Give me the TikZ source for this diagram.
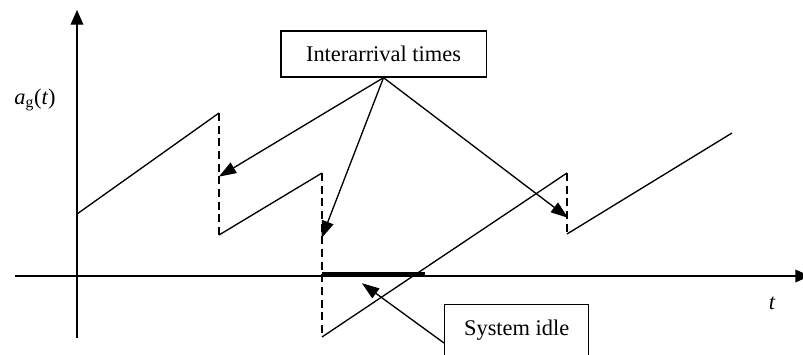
\documentclass[tikz,border=0pt]{standalone}
\usepackage{fontspec}
\setmainfont{Liberation Serif}
\usetikzlibrary{arrows.meta, calc, positioning}

\begin{document}
\begin{tikzpicture}[
  x=0.75pt, y=-0.75pt,
  %% Axis line
  axis/.style={line width=1pt, -{Triangle[length=11pt,width=9.5pt]}},
  %% Curve segments
  crv/.style={line width=1pt, line join=miter},
  %% Jump (dashed)
  jmp/.style={line width=1pt, dash pattern=on 6pt off 3.5pt},
  %% Label box
  lbox/.style={draw, line width=1pt, rectangle, font=\fontsize{16.8}{20}\selectfont},
  %% Pointer arrow
  parr/.style={line width=1pt, -{Triangle[length=13pt,width=9pt]}, shorten >=-1pt},
]
\clip (0,0) rectangle (803,354);

%% ── AXES ────────────────────────────────────────────────────────────────────
\coordinate (O) at (77,276);
\draw[axis] (77,338) -- (77,10);
\draw[axis] (15,276) -- (810,276);
\node[font=\fontsize{16.8}{20}\selectfont] (ylab) at (35,100)
  {\textit{a}\textsubscript{g}(\textit{t})};
\node[font=\fontsize{16.8}{20}\selectfont\itshape] (xlab) at (772,303) {t};

%% ── CURVE a_g(t) ────────────────────────────────────────────────────────────
\coordinate (A0) at (77,214);
\coordinate (A1) at (219,113);  \coordinate (B1) at (219,235);
\coordinate (A2) at (322,173);  \coordinate (B2) at (322,337);
\coordinate (A3) at (567,173);  \coordinate (B3) at (567,234);
\coordinate (A4) at (732,133);
\draw[crv] (A0) -- (A1);
\draw[jmp] (A1) -- (B1);
\draw[crv] (B1) -- (A2);
\draw[jmp] (A2) -- (B2);
\draw[crv] (B2) -- (A3);
\draw[jmp] (A3) -- (B3);
\draw[crv] (B3) -- (A4);

%% ── IDLE PERIOD ─────────────────────────────────────────────────────────────
\coordinate (I0) at (322,273.5);
\coordinate (I1) at (425,273.5);
\draw[line width=2.4pt] (I0) -- (I1);

%% ── LABEL BOXES ─────────────────────────────────────────────────────────────
\node[lbox, minimum width=154pt, minimum height=34.5pt]
  (ia) at (383.5,54) {Interarrival times};
\node[lbox, anchor=north west, minimum width=108pt, inner ysep=6pt,
      text height=17pt, text depth=22pt]
  (si) at (444,304) {System idle};

%% ── POINTERS ────────────────────────────────────────────────────────────────
\coordinate (T1) at (220,176);
\coordinate (T2) at (322,237);
\coordinate (T3) at (567,217);
\coordinate (T4) at (363,284);
\draw[parr] (ia.south) -- (T1);
\draw[parr] (ia.south) -- (T2);
\draw[parr] (ia.south) -- (T3);
\draw[parr] ([yshift=-29.25pt]si.north west) -- (T4);

\end{tikzpicture}
\end{document}
